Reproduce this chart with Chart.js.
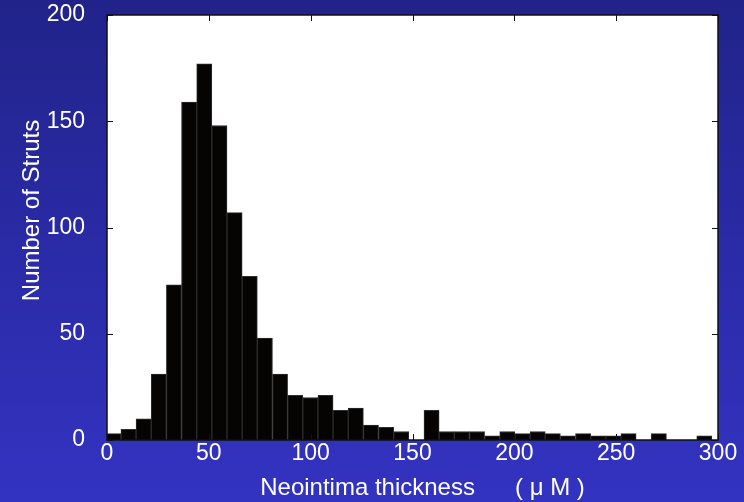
<!DOCTYPE html>
<html>
<head>
<meta charset="utf-8">
<script src="https://cdn.jsdelivr.net/npm/chart.js@4.4.0/dist/chart.umd.min.js"></script>
<style>
  html, body { margin: 0; padding: 0; }
  body {
    width: 744px; height: 502px; overflow: hidden;
    background: linear-gradient(to bottom, #21238a, #3333c2);
  }
</style>
</head>
<body>
<canvas id="hist" width="744" height="502"></canvas>
<script>
// histogram bins (micrometres) and strut counts
const binStart = -0.6;
const binWidth = 7.44;
const counts = [3, 5, 10, 31, 73, 159, 177, 148, 107, 77,
                48, 31, 21, 20, 21, 14, 15, 7, 6, 4,
                0, 14, 4, 4, 4, 2, 4, 3, 4, 3,
                2, 3, 2, 2, 3, 0, 3, 0, 0, 2];
const xTicks = [0, 50, 100, 150, 200, 250, 300];
const yTicks = [0, 50, 100, 150, 200];
const xTitle = 'Neointima thickness      ( \u03bc M )';
const yTitle = 'Number of Struts';

const FONT = '"Liberation Sans", Arial, sans-serif';

const bars = counts.map((c, i) => ({ x: binStart + binWidth * (i + 0.5), y: c }));

// white plot box, inward tick marks on all four sides, axis titles
const frame = {
  id: 'frame',
  beforeDatasetsDraw(chart) {
    const { ctx, chartArea: a } = chart;
    ctx.save();
    ctx.fillStyle = '#ffffff';
    ctx.fillRect(a.left, a.top, a.right - a.left, a.bottom - a.top);
    ctx.restore();
  },
  afterDatasetsDraw(chart) {
    const { ctx, chartArea: a, scales } = chart;
    const len = 6;
    ctx.save();
    ctx.strokeStyle = '#111';
    ctx.lineWidth = 1;
    ctx.beginPath();
    xTicks.forEach(v => {
      const px = Math.round(scales.x.getPixelForValue(v)) + 0.5;
      ctx.moveTo(px, a.bottom); ctx.lineTo(px, a.bottom - len);
      ctx.moveTo(px, a.top); ctx.lineTo(px, a.top + len);
    });
    yTicks.forEach(v => {
      const py = Math.round(scales.y.getPixelForValue(v)) + 0.5;
      ctx.moveTo(a.left, py); ctx.lineTo(a.left + len, py);
      ctx.moveTo(a.right, py); ctx.lineTo(a.right - len, py);
    });
    ctx.stroke();
    ctx.lineWidth = 1.5;
    ctx.strokeRect(a.left, a.top, a.right - a.left, a.bottom - a.top);
    ctx.restore();
  },
  afterDraw(chart) {
    const { ctx, chartArea: a } = chart;
    ctx.save();
    ctx.fillStyle = '#ffffff';
    ctx.font = '24px ' + FONT;
    ctx.textAlign = 'center';
    ctx.textBaseline = 'alphabetic';
    ctx.fillText(xTitle, (a.left + a.right) / 2 + 10, 495);
    ctx.translate(39, (a.top + a.bottom) / 2 - 17);
    ctx.rotate(-Math.PI / 2);
    ctx.fillText(yTitle, 0, 0);
    ctx.restore();
  }
};

new Chart(document.getElementById('hist'), {
  type: 'bar',
  data: {
    datasets: [{
      data: bars,
      backgroundColor: '#060303',
      borderColor: '#2e2e2e',
      borderWidth: 1,
      barPercentage: 1,
      categoryPercentage: 1
    }]
  },
  options: {
    responsive: false,
    animation: false,
    devicePixelRatio: 1,
    layout: { padding: { top: 15, right: 26, left: 0, bottom: 0 } },
    plugins: { legend: { display: false }, tooltip: { enabled: false } },
    scales: {
      x: {
        type: 'linear',
        min: 0, max: 300,
        offset: false,
        grid: { display: false },
        border: { display: false },
        ticks: { stepSize: 50, color: '#ffffff', padding: -8, maxRotation: 0, font: { size: 23, family: FONT } },
        afterFit: s => { s.height = 62; s.paddingLeft = 0; s.paddingRight = 0; }
      },
      y: {
        min: 0, max: 200,
        grid: { display: false },
        border: { display: false },
        ticks: { stepSize: 50, color: '#ffffff', padding: 14, font: { size: 23, family: FONT } },
        afterFit: s => { s.width = 107; s.paddingTop = 0; s.paddingBottom = 0; }
      }
    }
  },
  plugins: [frame]
});
</script>
</body>
</html>
